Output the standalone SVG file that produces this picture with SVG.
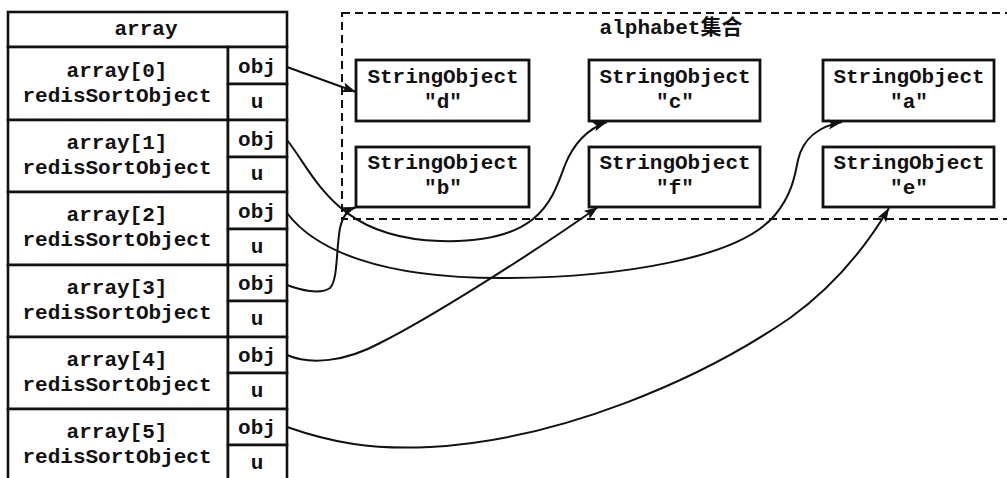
<svg xmlns="http://www.w3.org/2000/svg" width="1007" height="478" viewBox="0 0 1007 478">
<defs>
<style>
.t{font-family:"Liberation Mono","Noto Sans CJK SC",monospace;font-size:21px;font-weight:bold;fill:#111;text-anchor:middle}
.cell{fill:#fff;stroke:#111;stroke-width:2.6}
.box{fill:#fff;stroke:#111;stroke-width:2.8}
.dash{fill:none;stroke:#111;stroke-width:2;stroke-dasharray:8 5}
.conn{fill:none;stroke:#111;stroke-width:2;marker-end:url(#arr)}
</style>
<marker id="arr" markerUnits="userSpaceOnUse" markerWidth="16" markerHeight="12" refX="14" refY="6" orient="auto">
<path d="M0,1 L14,6 L0,11 L3,6 Z" fill="#111"/>
</marker>
</defs>
<rect width="1007" height="478" fill="#fff"/>

<g id="alphabet">
<rect class="dash" x="342" y="13" width="680" height="206"/>
<text class="t" x="671" y="34">alphabet集合</text>
</g>

<g id="array">
<rect class="cell" x="8" y="12" width="279" height="35"/>
<text class="t" x="146" y="35">array</text>
</g>

<g id="row0">
<rect class="cell" x="8" y="47" width="220" height="73"/>
<rect class="cell" x="228" y="47" width="59" height="37"/>
<rect class="cell" x="228" y="84" width="59" height="36"/>
<text class="t" x="117" y="77">array[0]</text>
<text class="t" x="117" y="102">redisSortObject</text>
<text class="t" x="257" y="73">obj</text>
<text class="t" x="257" y="108">u</text>
</g>
<g id="row1">
<rect class="cell" x="8" y="120" width="220" height="72"/>
<rect class="cell" x="228" y="120" width="59" height="37"/>
<rect class="cell" x="228" y="157" width="59" height="35"/>
<text class="t" x="117" y="149">array[1]</text>
<text class="t" x="117" y="174">redisSortObject</text>
<text class="t" x="257" y="146">obj</text>
<text class="t" x="257" y="180">u</text>
</g>
<g id="row2">
<rect class="cell" x="8" y="192" width="220" height="73"/>
<rect class="cell" x="228" y="192" width="59" height="37"/>
<rect class="cell" x="228" y="229" width="59" height="36"/>
<text class="t" x="117" y="221">array[2]</text>
<text class="t" x="117" y="246">redisSortObject</text>
<text class="t" x="257" y="218">obj</text>
<text class="t" x="257" y="253">u</text>
</g>
<g id="row3">
<rect class="cell" x="8" y="265" width="220" height="72"/>
<rect class="cell" x="228" y="265" width="59" height="36"/>
<rect class="cell" x="228" y="301" width="59" height="36"/>
<text class="t" x="117" y="294">array[3]</text>
<text class="t" x="117" y="319">redisSortObject</text>
<text class="t" x="257" y="290">obj</text>
<text class="t" x="257" y="325">u</text>
</g>
<g id="row4">
<rect class="cell" x="8" y="337" width="220" height="72"/>
<rect class="cell" x="228" y="337" width="59" height="36"/>
<rect class="cell" x="228" y="373" width="59" height="36"/>
<text class="t" x="117" y="366">array[4]</text>
<text class="t" x="117" y="391">redisSortObject</text>
<text class="t" x="257" y="362">obj</text>
<text class="t" x="257" y="397">u</text>
</g>
<g id="row5">
<rect class="cell" x="8" y="409" width="220" height="90"/>
<rect class="cell" x="228" y="409" width="59" height="36"/>
<rect class="cell" x="228" y="445" width="59" height="54"/>
<text class="t" x="117" y="438">array[5]</text>
<text class="t" x="117" y="463">redisSortObject</text>
<text class="t" x="257" y="434">obj</text>
<text class="t" x="257" y="469">u</text>
</g>

<g id="so_d">
<rect class="box" x="356" y="60" width="173" height="61"/>
<text class="t" x="443" y="83">StringObject</text>
<text class="t" x="443" y="108">"d"</text>
</g>
<g id="so_b">
<rect class="box" x="356" y="147" width="173" height="60"/>
<text class="t" x="443" y="169">StringObject</text>
<text class="t" x="443" y="194">"b"</text>
</g>
<g id="so_c">
<rect class="box" x="589" y="60" width="171" height="61"/>
<text class="t" x="675" y="83">StringObject</text>
<text class="t" x="675" y="108">"c"</text>
</g>
<g id="so_f">
<rect class="box" x="589" y="147" width="171" height="60"/>
<text class="t" x="675" y="169">StringObject</text>
<text class="t" x="675" y="194">"f"</text>
</g>
<g id="so_a">
<rect class="box" x="823" y="60" width="171" height="61"/>
<text class="t" x="909" y="83">StringObject</text>
<text class="t" x="909" y="108">"a"</text>
</g>
<g id="so_e">
<rect class="box" x="823" y="147" width="171" height="60"/>
<text class="t" x="909" y="169">StringObject</text>
<text class="t" x="909" y="194">"e"</text>
</g>

<g id="connectors">
<path class="conn" d="M287,67 L356,92"/>
<path class="conn" d="M287,140 C315,175 335,238 440,241 C540,244 552,200 565,165 C575,140 590,128 607,122"/>
<path class="conn" d="M287,213 C315,250 380,278 500,278 C620,278 740,258 775,215 C792,195 795,175 798,160 C803,138 820,126 842,122"/>
<path class="conn" d="M287,285 C300,290 320,295 330,288 C338,280 336,250 340,228 C343,215 348,210 356,207"/>
<path class="conn" d="M287,355 C310,365 345,362 380,343 C430,318 530,255 598,207"/>
<path class="conn" d="M287,427 C330,442 370,450 430,447 C560,440 700,380 790,318 C840,282 870,240 889,208"/>
</g>
</svg>
